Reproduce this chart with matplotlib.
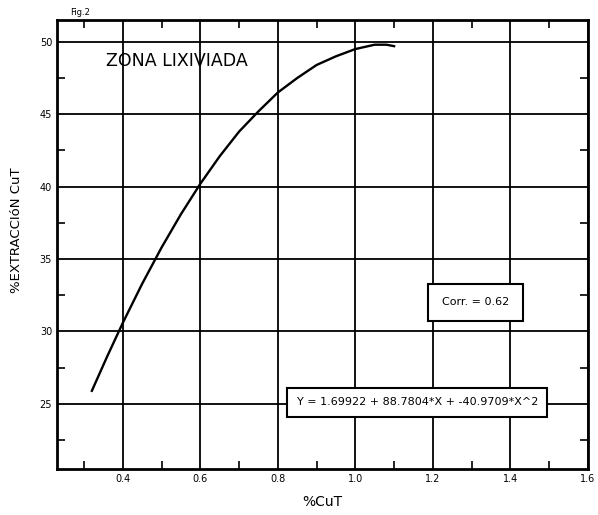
import numpy as np
import matplotlib.pyplot as plt
from matplotlib.ticker import MultipleLocator

# curve (%CuT vs %extraccion)
cut = [0.32, 0.36, 0.40, 0.45, 0.50, 0.55, 0.60, 0.65, 0.70, 0.75,
       0.80, 0.85, 0.90, 0.95, 1.00, 1.05, 1.08, 1.10]
extraccion = [25.9, 28.3, 30.6, 33.3, 35.8, 38.1, 40.2, 42.1, 43.8, 45.2,
              46.5, 47.5, 48.4, 49.0, 49.5, 49.8, 49.8, 49.7]

xticks = [0.4, 0.6, 0.8, 1.0, 1.2, 1.4, 1.6]
xtick_labels = ['0.4', '0.6', '0.8', '1.0', '1.2', '1.4', '1.6']
yticks = [25, 30, 35, 40, 45, 50]

plt.rcParams['font.family'] = ['DejaVu Sans']

fig = plt.figure(figsize=(5.98, 5.15), dpi=100)
ax = fig.add_axes([0.0953, 0.0893, 0.8877, 0.8717])

ax.plot(cut, extraccion, color='black', lw=1.7)

ax.set_xlim(0.23, 1.58)
ax.set_ylim(20.5, 51.5)
ax.set_xticks(xticks)
ax.set_xticklabels(xtick_labels)
ax.set_yticks(yticks)
ax.xaxis.set_minor_locator(MultipleLocator(0.1))
ax.yaxis.set_minor_locator(MultipleLocator(2.5))
ax.tick_params(which='both', direction='in', top=True, right=True,
               labelsize=7, width=1.2)
ax.tick_params(which='major', length=0)
ax.tick_params(which='minor', length=6)
ax.grid(True, which='major', color='black', lw=1.3)
for s in ax.spines.values():
    s.set_linewidth(2)

ax.set_xlabel('%CuT', fontsize=10, labelpad=8)
# y label placed by hand, the scan has it close to the page edge
fig.text(0.028, 0.553, '%EXTRACCIóN CuT', fontsize=9.5, rotation=90,
         ha='center', va='center')

ax.text(0.357, 48.7, 'ZONA LIXIVIADA', fontsize=12.5, va='center')
fig.text(0.117, 0.985, 'Fig.2', fontsize=6, va='top')

box = dict(boxstyle='square,pad=1.25', fc='white', ec='black', lw=1.5)
ax.text(1.31, 32.0, 'Corr. = 0.62', fontsize=8, ha='center', va='center', bbox=box)
box2 = dict(boxstyle='square,pad=0.85', fc='white', ec='black', lw=1.5)
ax.text(1.16, 25.1, 'Y = 1.69922 + 88.7804*X + -40.9709*X^2', fontsize=8,
        ha='center', va='center', bbox=box2)

fig.savefig('out.png', dpi=100)
